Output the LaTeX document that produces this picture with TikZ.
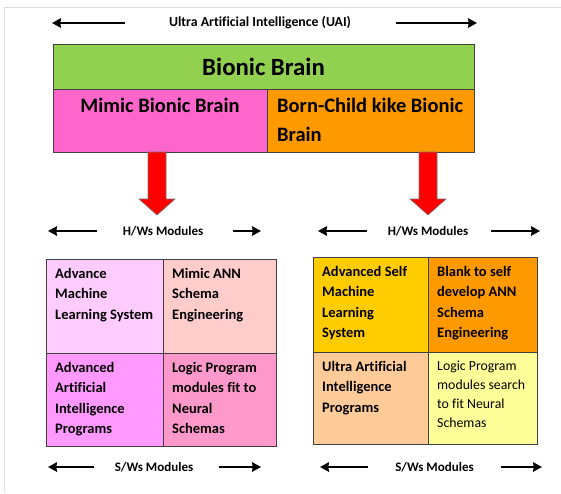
\documentclass[tikz,border=0pt]{standalone}
\usepackage{fontspec}
\setmainfont[Ligatures=NoCommon]{Carlito}
\usepackage{tikz}
\usetikzlibrary{arrows.meta,positioning}

\definecolor{brgreen}{HTML}{92D050}
\definecolor{brpink}{HTML}{FF66CC}
\definecolor{brorange}{HTML}{FF9900}
\definecolor{mimA}{HTML}{FFCCFF}
\definecolor{mimB}{HTML}{FFCCCC}
\definecolor{mimC}{HTML}{FF99FF}
\definecolor{mimD}{HTML}{FF99CC}
\definecolor{bornA}{HTML}{FFCC00}
\definecolor{bornB}{HTML}{FF9900}
\definecolor{bornC}{HTML}{FFCC99}
\definecolor{bornD}{HTML}{FFFF99}

\begin{document}
\begin{tikzpicture}[
  x=1pt, y=-1pt,
  caption/.style={font=\fontsize{13.8}{16}\selectfont\bfseries},
  modcap/.style={font=\fontsize{13}{15}\selectfont\bfseries},
  brainbox/.style={draw=black!75, line width=0.8pt, outer sep=0pt, inner sep=0pt},
  braintext/.style={anchor=north west, align=left, inner sep=0pt, font=\fontsize{20.5}{29}\selectfont\bfseries},
  cell/.style={draw=black!75, line width=0.8pt, outer sep=0pt, inner sep=0pt},
  celltext/.style={anchor=north west, align=left, inner sep=0pt, xshift=9pt, yshift=-9pt, font=\fontsize{14.5}{20.5}\selectfont\bfseries},
  harrow/.style={-{Stealth[length=9pt,width=9.5pt,inset=0.8pt]}, line width=2.7pt},
  redarrow/.style={draw=black!55, fill=red, line width=0.6pt, line join=miter}
]
\useasboundingbox (0,0) rectangle (561,493);
\draw[black!12] (4,493) -- (4,7) -- (561,7);

% top caption
\node[caption] (uai) at (260,23) {Ultra Artificial Intelligence (UAI)};
\coordinate (uaiL) at (52,23);
\coordinate (uaiR) at (477,23);
\draw[harrow] ([xshift=-40pt]uai.west) -- (uaiL);
\draw[harrow] ([xshift=41pt]uai.east) -- (uaiR);

% brain boxes
\node[brainbox, fill=brgreen, anchor=north west, minimum width=421pt, minimum height=45pt,
  font=\fontsize{24.8}{28}\selectfont\bfseries] (bionic) at (53,44) {Bionic Brain};
\node[brainbox, fill=brpink, below right=0pt of bionic.south west, minimum width=214pt, minimum height=63pt,
  label={[braintext, anchor=north, yshift=-9pt]north:Mimic Bionic Brain}] (mimic) {};
\node[brainbox, fill=brorange, right=0pt of mimic, minimum width=207pt, minimum height=63pt,
  label={[braintext, xshift=10pt, yshift=-9pt]north west:Born-Child kike Bionic\\Brain}] (born) {};

% red arrows down to the module grids
\coordinate (downL) at (157,0 |- mimic.south);
\coordinate (downR) at (428,0 |- born.south);
\foreach \d in {downL,downR}
  \draw[redarrow] ([xshift=-9pt]\d) -- ++(0,47) -- ++(-9,0) -- ++(18,16) -- ++(18,-16) -- ++(-9,0) -- ++(0,-47) -- cycle;

% mimic modules
\node[modcap] (hwL) at (163,231) {H/Ws Modules};
\coordinate (hwLl) at (48,231);
\coordinate (hwLr) at (261,231);
\draw[harrow] ([xshift=-22pt]hwL.west) -- (hwLl);
\draw[harrow] ([xshift=26pt]hwL.east) -- (hwLr);

\node[cell, fill=mimA, anchor=north west, minimum width=117pt, minimum height=94pt,
  label={[celltext]north west:Advance\\Machine\\Learning System}] (m11) at (46,259) {};
\node[cell, fill=mimB, right=0pt of m11, minimum width=113pt, minimum height=94pt,
  label={[celltext]north west:Mimic ANN\\Schema\\Engineering}] (m12) {};
\node[cell, fill=mimC, below=0pt of m11, minimum width=117pt, minimum height=93pt,
  label={[celltext]north west:Advanced\\Artificial\\Intelligence\\Programs}] (m21) {};
\node[cell, fill=mimD, right=0pt of m21, minimum width=113pt, minimum height=93pt,
  label={[celltext]north west:Logic Program\\modules fit to\\Neural\\Schemas}] (m22) {};

\node[modcap] (swL) at (154,467) {S/Ws Modules};
\coordinate (swLl) at (48,467);
\coordinate (swLr) at (261,467);
\draw[harrow] ([xshift=-17pt]swL.west) -- (swLl);
\draw[harrow] ([xshift=22pt]swL.east) -- (swLr);

% born-child modules
\node[modcap] (hwR) at (428,231) {H/Ws Modules};
\coordinate (hwRl) at (318,231);
\coordinate (hwRr) at (540,231);
\draw[harrow] ([xshift=-17pt]hwR.west) -- (hwRl);
\draw[harrow] ([xshift=19pt]hwR.east) -- (hwRr);

\node[cell, fill=bornA, anchor=north west, minimum width=115pt, minimum height=95pt,
  label={[celltext]north west:Advanced Self\\Machine\\Learning\\System}] (b11) at (313,257) {};
\node[cell, fill=bornB, right=0pt of b11, minimum width=109pt, minimum height=95pt,
  label={[celltext]north west:Blank to self\\develop ANN\\Schema\\Engineering}] (b12) {};
\node[cell, fill=bornC, below=0pt of b11, minimum width=115pt, minimum height=92pt,
  label={[celltext]north west:Ultra Artificial\\Intelligence\\Programs}] (b21) {};
\node[cell, fill=bornD, right=0pt of b21, minimum width=109pt, minimum height=92pt,
  label={[celltext, font=\fontsize{13.8}{19}\selectfont]north west:Logic Program\\modules search\\to fit Neural\\Schemas}] (b22) {};

\node[modcap] (swR) at (434.5,467) {S/Ws Modules};
\coordinate (swRl) at (320,467);
\coordinate (swRr) at (542,467);
\draw[harrow] ([xshift=-24pt]swR.west) -- (swRl);
\draw[harrow] ([xshift=24pt]swR.east) -- (swRr);
\end{tikzpicture}
\end{document}
